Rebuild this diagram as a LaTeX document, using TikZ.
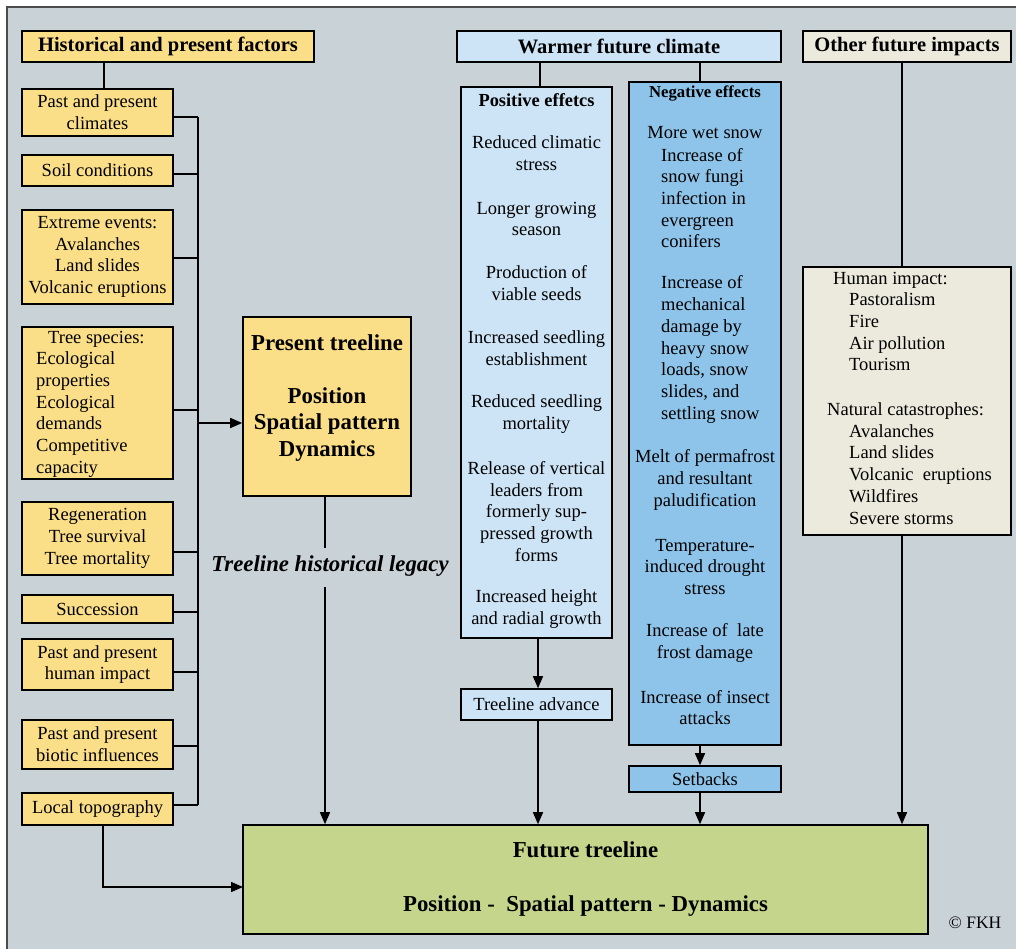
\documentclass[tikz,border=0pt]{standalone}
\usepackage{fontspec}
\setmainfont{Liberation Serif}
\usetikzlibrary{arrows.meta}
\definecolor{bgc}{RGB}{201,210,214}
\definecolor{yel}{RGB}{250,222,136}
\definecolor{lblue}{RGB}{204,228,246}
\definecolor{nblue}{RGB}{142,196,234}
\definecolor{grn}{RGB}{197,213,140}
\definecolor{beig}{RGB}{236,234,220}
\newcommand\myn{\fontsize{18.5}{21.7}\selectfont}
\newcommand\myh{\fontsize{20.5}{24}\selectfont\bfseries}
\newcommand\myb{\fontsize{22.8}{26.5}\selectfont\bfseries}
\begin{document}
\begin{tikzpicture}[x=1pt,y=-1pt,
  box/.style={draw=black,line width=1.6pt,inner sep=0pt,align=center,font=\myn},
  ybox/.style={box,fill=yel},
  con/.style={line width=1.4pt},
  arr/.style={con,-{Triangle[length=12pt,width=10pt]}},
  txt/.style={inner sep=0pt,align=center,font=\myn},
  ltxt/.style={inner sep=0pt,align=left,font=\myn,anchor=west}]
\useasboundingbox (0,0) rectangle (1016,949);
\fill[white] (0,0) rectangle (1016,949);
\fill[bgc] (7,7) rectangle (1016,949);
\draw[line width=1.2pt,black!70] (7,949) -- (7,7) -- (1016,7);

% ---------- left column ----------
\node[ybox,minimum width=292pt,minimum height=31pt,font=\myh] (hist) at (168,46.5) {Historical and present factors};
\node[ybox,minimum width=151pt,minimum height=47pt] (climates) at (97.5,112.5) {Past and present\\climates};
\node[ybox,minimum width=151pt,minimum height=31pt] (soil) at (97.5,170.5) {Soil conditions};
\node[ybox,minimum width=151pt,minimum height=94pt] (extreme) at (97.5,257) {Extreme events:\\Avalanches\\Land slides\\Volcanic eruptions};
\node[ybox,minimum width=151pt,minimum height=152pt] (tree) at (97.5,403) {};
\node[ltxt] (treetxt) at (36,404) {\hspace*{12pt}Tree species:\\Ecological\\properties\\Ecological\\demands\\Competitive\\capacity};
\node[ybox,minimum width=151pt,minimum height=73pt] (regen) at (97.5,538.5) {Regeneration\\Tree survival\\Tree mortality};
\node[ybox,minimum width=151pt,minimum height=28pt] (succ) at (97.5,609) {Succession};
\node[ybox,minimum width=151pt,minimum height=51pt] (human) at (97.5,664.5) {Past and present\\human impact};
\node[ybox,minimum width=151pt,minimum height=49pt] (biotic) at (97.5,744.5) {Past and present\\biotic influences};
\node[ybox,minimum width=151pt,minimum height=32pt] (topo) at (97.5,809) {Local topography};

\draw[con] ([xshift=-64pt]hist.south) -- ([xshift=6.5pt]climates.north);

\coordinate (bt) at (198,117);
\coordinate (bb) at (198,805);
\draw[con] (bt) -- (bb);
\draw[con] ([yshift=-4.5pt]climates.east) -- (bt);
\draw[con] ([yshift=-3.5pt]soil.east) -- ++(25,0);
\draw[con] ([yshift=-1pt]extreme.east) -- ++(25,0);
\draw[con] ([yshift=-7pt]tree.east) -- ++(25,0);
\draw[con] ([yshift=-13.5pt]regen.east) -- ++(25,0);
\draw[con] ([yshift=-3pt]succ.east) -- ++(25,0);
\draw[con] ([yshift=-7.5pt]human.east) -- ++(25,0);
\draw[con] ([yshift=-1.5pt]biotic.east) -- ++(25,0);
\draw[con] ([yshift=4pt]topo.east) -- (bb);

% ---------- present treeline ----------
\node[ybox,minimum width=168pt,minimum height=179pt] (present) at (327,406.5) {};
\node[txt,font=\myb] (prestxt) at (327,398) {Present treeline\\[26.5pt]Position\\Spatial pattern\\Dynamics};
\coordinate (busarr) at (198,423);
\draw[arr] (busarr) -- (busarr -| present.west);

\node[inner sep=0pt,font=\myb\itshape] (legacy) at (330,566) {Treeline historical legacy};
\coordinate (lg1) at (325,496);
\coordinate (lg2) at (325,548);
\coordinate (lg3) at (325,587);
\draw[con] (lg1) -- (lg2);

% ---------- future treeline ----------
\node[box,fill=grn,minimum width=685pt,minimum height=109pt,font=\myb,align=center] (future) at (585.5,879.5) {Future treeline\\[27.5pt]Position -\ \ Spatial pattern - Dynamics};
\draw[arr] (lg3) -- (lg3 |- future.north);
\coordinate (fin) at (243,887);
\draw[arr] ([xshift=5.5pt]topo.south) |- (fin);

% ---------- warmer future climate ----------
\node[box,fill=lblue,minimum width=324pt,minimum height=31pt,font=\myh] (warm) at (619,46.5) {Warmer future climate};
\node[box,fill=lblue,minimum width=151pt,minimum height=551pt] (pos) at (536.5,362.5) {};
\node[box,fill=nblue,minimum width=152pt,minimum height=663pt] (neg) at (705,413.5) {};
\draw[con] (540,62) -- ([xshift=3.5pt]pos.north);
\draw[con] (700,62) -- ([xshift=-5pt]neg.north);

\node[txt,font=\fontsize{18.4}{21.7}\selectfont\bfseries] (postitle) at (536.5,100) {Positive effetcs};
\node[txt] (p1) at (536.5,153) {Reduced climatic\\stress};
\node[txt] (p2) at (536.5,219) {Longer growing\\season};
\node[txt] (p3) at (536.5,283) {Production of\\viable seeds};
\node[txt] (p4) at (536.5,348) {Increased seedling\\establishment};
\node[txt] (p5) at (536.5,414) {Reduced seedling\\mortality};
\node[txt] (p6) at (536.5,511.5) {Release of vertical\\leaders from\\formerly sup-\\pressed growth\\forms};
\node[txt] (p7) at (536.5,609) {Increased height\\and radial growth};

\node[txt,font=\fontsize{16.7}{20}\selectfont\bfseries] (negtitle) at (705,93) {Negative effects};
\node[txt] (n0) at (705,133) {More wet snow};
\node[ltxt] (n1) at (661,198) {Increase of\\snow fungi\\infection in\\evergreen\\conifers};
\node[ltxt] (n2) at (661,349.5) {Increase of\\mechanical\\damage by\\heavy snow\\loads, snow\\slides, and\\settling snow};
\node[txt] (n3) at (705,480) {Melt of permafrost\\and resultant\\paludification};
\node[txt] (n4) at (705,567) {Temperature-\\induced drought\\stress};
\node[txt] (n5) at (705,643) {Increase of\ \ late\\frost damage};
\node[txt] (n6) at (705,707.5) {Increase of insect\\attacks};

\node[box,fill=lblue,minimum width=151pt,minimum height=31pt] (adv) at (536.5,704.5) {Treeline advance};
\node[box,fill=nblue,minimum width=152pt,minimum height=26pt] (setb) at (705,779) {Setbacks};
\draw[arr] ([xshift=1.5pt]pos.south) -- ([xshift=1.5pt]adv.north);
\draw[arr] ([xshift=1.5pt]adv.south) -- ([xshift=1.5pt]adv.south |- future.north);
\draw[arr] ([xshift=-5pt]neg.south) -- ([xshift=-5pt]setb.north);
\draw[arr] ([xshift=-5pt]setb.south) -- ([xshift=-5pt]setb.south |- future.north);

% ---------- other future impacts ----------
\node[box,fill=beig,minimum width=208pt,minimum height=31pt,font=\myh] (other) at (907,46.5) {Other future impacts};
\node[box,fill=beig,minimum width=208pt,minimum height=268pt] (himp) at (907,401) {};
\node[ltxt] (himptxt) at (827,398) {\hspace*{6pt}Human impact:\\\hspace*{22pt}Pastoralism\\\hspace*{22pt}Fire\\\hspace*{22pt}Air pollution\\\hspace*{22pt}Tourism\\[23pt]Natural catastrophes:\\\hspace*{22pt}Avalanches\\\hspace*{22pt}Land slides\\\hspace*{22pt}Volcanic\ \ eruptions\\\hspace*{22pt}Wildfires\\\hspace*{22pt}Severe storms};
\draw[con] ([xshift=-5pt]other.south) -- ([xshift=-5pt]himp.north);
\draw[arr] ([xshift=-5pt]himp.south) -- ([xshift=-5pt]himp.south |- future.north);

\node[inner sep=0pt,font=\fontsize{17.5}{20}\selectfont] (fkh) at (975,923) {© FKH};
\end{tikzpicture}
\end{document}
